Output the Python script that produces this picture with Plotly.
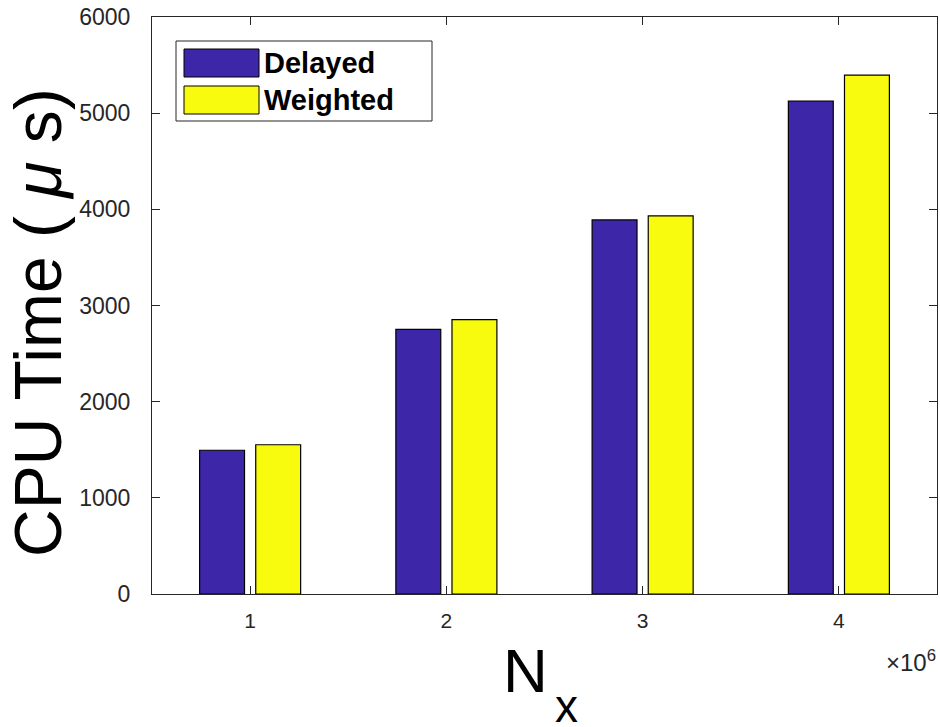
import plotly.graph_objects as go

# CPU time per problem size
nx_values = [1e6, 2e6, 3e6, 4e6]
delayed_us = [1495, 2752, 3890, 5125]
weighted_us = [1552, 2853, 3931, 5395]

series_names = ["Delayed", "Weighted"]
series_colors = ["#3e26a8", "#f9fb0e"]

y_ticks = [0, 1000, 2000, 3000, 4000, 5000, 6000]
x_ticks = [1e6, 2e6, 3e6, 4e6]
x_tick_labels = ["1", "2", "3", "4"]

FONT = "Liberation Sans, Arial, Helvetica, sans-serif"
AX = "#262626"

fig = go.Figure()
for name, vals, col in zip(series_names, [delayed_us, weighted_us], series_colors):
    fig.add_trace(go.Bar(
        x=nx_values, y=vals, name=name,
        marker=dict(color=col, line=dict(color="#000000", width=1.2)),
        showlegend=False,
    ))

# Layout helpers: pixel positions -> paper coordinates
W, H = 940, 727
L, R, T, B = 152, 3, 17, 133
pw, ph = W - L - R, H - T - B


def px(x):
    return (x - L) / pw


def py(y):
    return (H - B - y) / ph


# Legend box with wide swatches
shapes = [dict(type="rect", xref="paper", yref="paper",
               x0=px(176), x1=px(432), y0=py(121), y1=py(41),
               line=dict(color=AX, width=1), fillcolor="white", layer="above")]
annotations = []
rows = [(49, 77), (86, 114)]
for (y0, y1), name, col in zip(rows, series_names, series_colors):
    shapes.append(dict(type="rect", xref="paper", yref="paper",
                       x0=px(184), x1=px(259), y0=py(y1), y1=py(y0),
                       line=dict(color="#000000", width=1), fillcolor=col, layer="above"))
    annotations.append(dict(xref="paper", yref="paper", x=px(262), y=py((y0 + y1) / 2),
                            text=f"<b>{name}</b>", showarrow=False, xanchor="left",
                            yanchor="middle", font=dict(family=FONT, size=29, color="#000000")))

# exponent marker for the x axis
annotations.append(dict(xref="paper", yref="paper", x=px(938), y=py(661),
                        text="×10<sup>6</sup>", showarrow=False, xanchor="right",
                        yanchor="middle", font=dict(family=FONT, size=24, color=AX)))

# axis titles
annotations.append(dict(xref="paper", yref="paper", x=px(38), y=py(323),
                        text="CPU Time ( <i>μ</i> s)", showarrow=False, textangle=-90,
                        xanchor="center", yanchor="middle",
                        font=dict(family=FONT, size=66, color="#000000")))
annotations.append(dict(xref="paper", yref="paper", x=px(550), y=py(695),
                        text="N", showarrow=False, xanchor="right", yanchor="bottom",
                        font=dict(family=FONT, size=62, color="#000000"), yshift=-12))
annotations.append(dict(xref="paper", yref="paper", x=px(553), y=py(727),
                        text="x", showarrow=False, xanchor="left", yanchor="bottom",
                        font=dict(family=FONT, size=46, color="#000000"), yshift=-7))

fig.update_layout(
    width=W, height=H,
    margin=dict(l=L, r=R, t=T, b=B, pad=0),
    paper_bgcolor="white", plot_bgcolor="white",
    barmode="group", bargap=0.428, bargroupgap=0.2,
    font=dict(family=FONT, color=AX),
    shapes=shapes, annotations=annotations,
    showlegend=False,
)
fig.update_xaxes(
    range=[0.5e6, 4.5e6], tickvals=x_ticks, ticktext=x_tick_labels,
    ticks="inside", ticklen=8, tickcolor=AX, tickwidth=1,
    showline=True, linecolor=AX, linewidth=1, mirror="allticks",
    showgrid=False, zeroline=False,
    tickfont=dict(size=21, color=AX, family=FONT), ticklabelstandoff=8,
)
fig.update_yaxes(
    range=[0, 6000], tickvals=y_ticks, ticktext=[str(v) for v in y_ticks],
    ticks="inside", ticklen=8, tickcolor=AX, tickwidth=1,
    showline=True, linecolor=AX, linewidth=1, mirror="allticks",
    showgrid=False, zeroline=False,
    tickfont=dict(size=23, color=AX, family=FONT), ticklabelstandoff=16,
)

fig.write_html("out.html")
